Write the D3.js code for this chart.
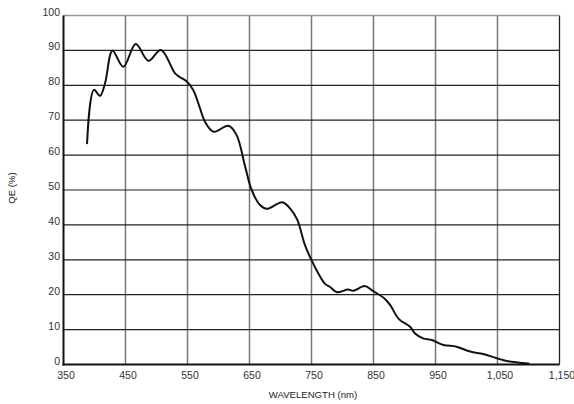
<!DOCTYPE html>
<html><head><meta charset="utf-8">
<script src="https://cdn.jsdelivr.net/npm/d3@7"></script>
<style>body{margin:0;background:#fff}svg{display:block}</style>
</head><body>
<script>
const wavelength = [388,399,409,417,429,446.5,466.5,487,507,530,538,548,559,570,578,592,616,629,643,653.5,667,678,703,716,727,739.5,750,761,772,780,791,809,817,836,847,868.5,877,891,909,917,930,944,963,984,1006,1027,1049,1065,1100];
const qe =        [63.4,78.7,77.0,80.6,89.9,85.3,91.8,87.0,90.1,83.4,82.3,81.2,78.7,73.5,69.6,66.7,68.4,65.8,56.7,50.0,45.7,44.6,46.5,44.6,41.5,34.2,29.9,26.1,23.1,22.2,20.7,21.5,21.1,22.5,21.3,18.8,17.0,13.0,10.8,8.9,7.5,7.0,5.6,5.1,3.7,3.0,1.8,1.0,0.3];
const xTicks = [350,450,550,650,750,850,950,1050,1150];
const yTicks = [0,10,20,30,40,50,60,70,80,90,100];
const data = wavelength.map((w,i)=>({w, q: qe[i]}));

const W = 574, H = 404;
const svg = d3.select("body").append("svg").attr("width",W).attr("height",H);
const x = d3.scaleLinear().domain([350,1150]).range([63.5,559.5]);
const y = d3.scaleLinear().domain([0,100]).range([364.5,15.5]);
const fmt = d3.format(",");

// vertical gridlines
svg.append("g").selectAll("line").data(xTicks.slice(1)).join("line")
  .attr("x1",d=>x(d)).attr("x2",d=>x(d)).attr("y1",y(100)).attr("y2",y(0))
  .attr("stroke",d=>d===1150?"#222":"#777").attr("stroke-width",d=>d===1150?1.3:1.5);
// horizontal gridlines
svg.append("g").selectAll("line").data(yTicks.slice(1)).join("line")
  .attr("x1",x(350)).attr("x2",x(1150)).attr("y1",d=>y(d)).attr("y2",d=>y(d))
  .attr("stroke",d=>d===100?"#999":"#222").attr("stroke-width",d=>d===100?1.5:1.2);

// axes lines
svg.append("line").attr("x1",x(350)).attr("x2",x(350)).attr("y1",y(100)).attr("y2",y(0)+1)
  .attr("stroke","#111").attr("stroke-width",2);
svg.append("line").attr("x1",x(350)-1).attr("x2",x(1150)).attr("y1",y(0)).attr("y2",y(0))
  .attr("stroke","#111").attr("stroke-width",2);

// tick labels
svg.append("g").selectAll("text").data(yTicks).join("text")
  .attr("x",60).attr("y",d=>y(d)).attr("text-anchor","end")
  .attr("font-family","Liberation Sans, Arial, sans-serif").attr("font-size",10.5).attr("fill","#333")
  .text(d=>d);
svg.append("g").selectAll("text").data(xTicks).join("text")
  .attr("x",d=>x(d)+2.5).attr("y",378.5).attr("text-anchor","middle")
  .attr("font-family","Liberation Sans, Arial, sans-serif").attr("font-size",10.5).attr("fill","#333")
  .text(d=>fmt(d));

// axis titles
svg.append("text").attr("x",313).attr("y",398).attr("text-anchor","middle")
  .attr("font-family","Liberation Sans, Arial, sans-serif").attr("font-size",9.6).attr("fill","#222")
  .text("WAVELENGTH (nm)");
svg.append("text").attr("transform","translate(15,188) rotate(-90)").attr("text-anchor","middle")
  .attr("font-family","Liberation Sans, Arial, sans-serif").attr("font-size",9.6).attr("fill","#222")
  .text("QE (%)");

// curve
const line = d3.line().x(d=>x(d.w)).y(d=>y(d.q)).curve(d3.curveCatmullRom.alpha(0.5));
svg.append("path").datum(data).attr("d",line).attr("fill","none")
  .attr("stroke","#111").attr("stroke-width",2).attr("stroke-linejoin","round").attr("stroke-linecap","round");
</script>
</body></html>
